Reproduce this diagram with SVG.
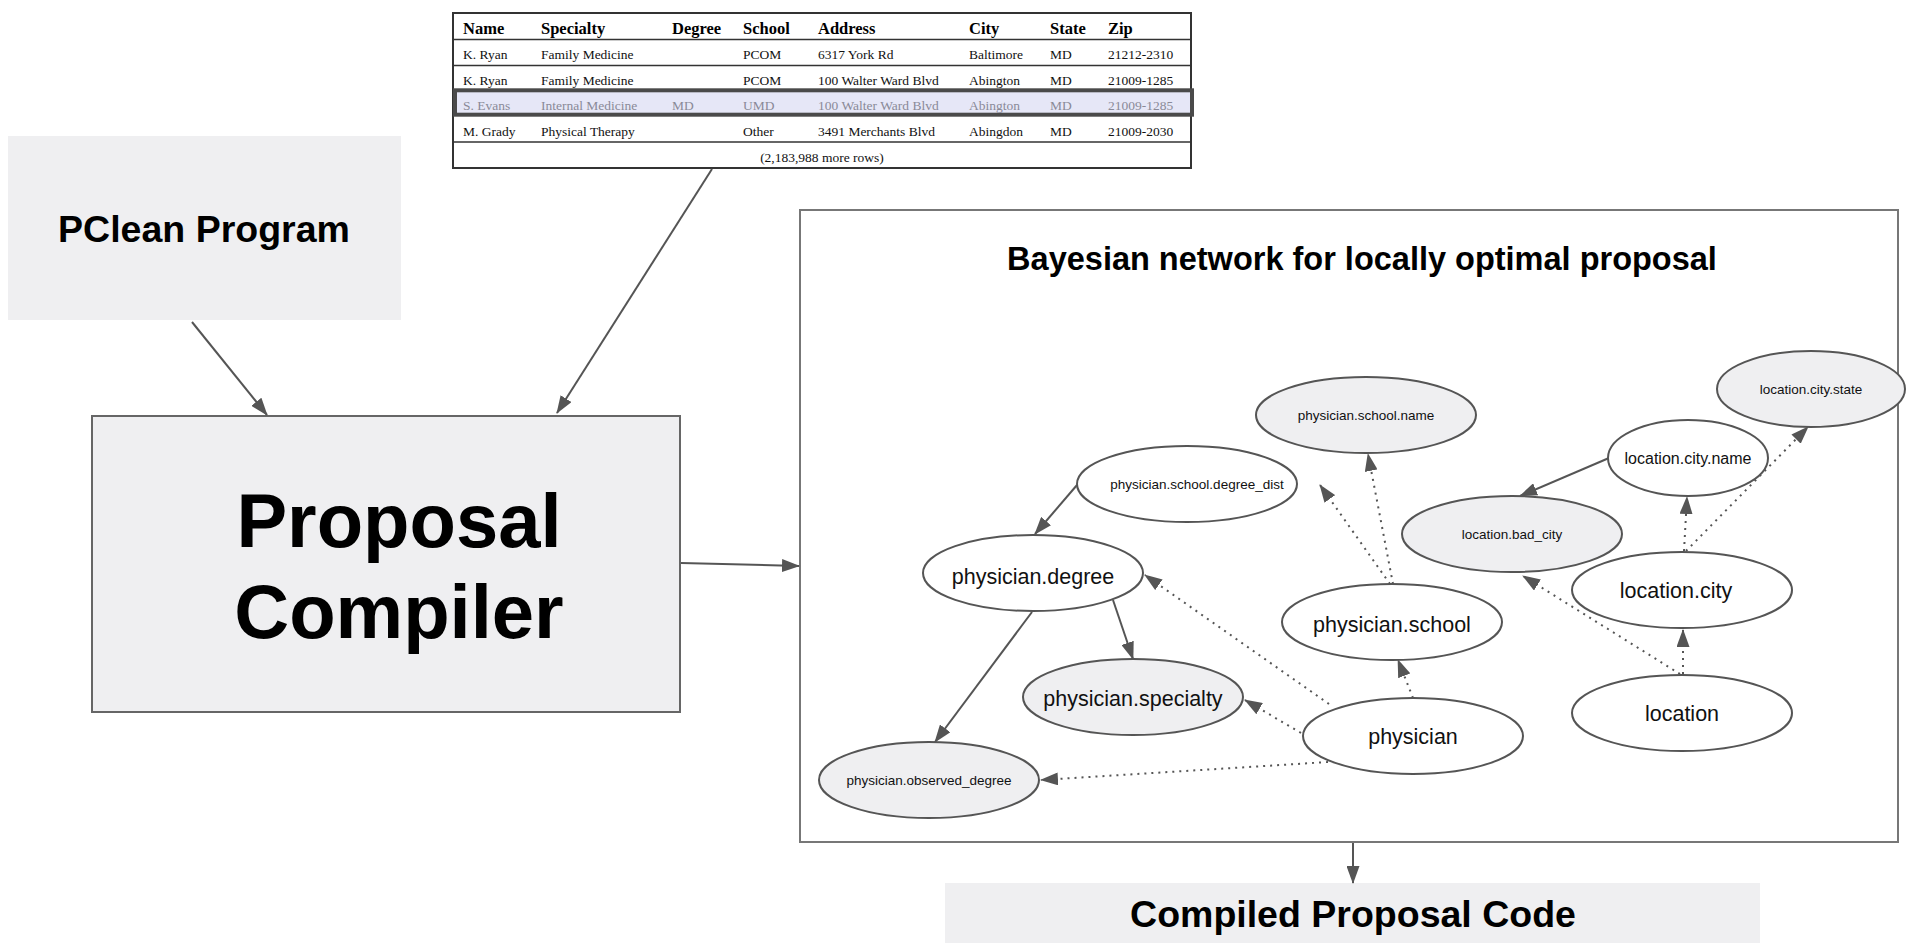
<svg xmlns="http://www.w3.org/2000/svg" width="1917" height="945" viewBox="0 0 1917 945">
<style>
.box{fill:#efeff1;}
.lbl{font-family:"Liberation Sans",Arial,sans-serif;font-weight:bold;fill:#000;text-anchor:middle;}
.tb{font-family:"Liberation Serif","Times New Roman",serif;font-size:13.5px;fill:#111;}
.th{font-family:"Liberation Serif","Times New Roman",serif;font-size:16.5px;font-weight:bold;fill:#000;}
.hl{fill:#8a8a98;}
.tl{stroke:#333;stroke-width:1.5;fill:none;}
.n ellipse{stroke:#555;stroke-width:2;fill:#fff;}
.n.g ellipse{fill:#efeff1;}
.n text{font-family:"Liberation Sans",Arial,sans-serif;fill:#111;text-anchor:middle;}
.big{font-size:21.5px;}
.sm{font-size:13.5px;}
.md{font-size:16px;}
.e{stroke:#555;stroke-width:2;fill:none;marker-end:url(#arr);}
.d{stroke-dasharray:2 5;}
</style>
<defs>
<marker id="arr" markerUnits="userSpaceOnUse" markerWidth="18" markerHeight="13" refX="17" refY="6.5" orient="auto" viewBox="0 0 18 13">
<path d="M0,0 L18,6.5 L0,13 z" fill="#555"/>
</marker>
</defs>
<rect width="1917" height="945" fill="#fff"/>

<g id="table">
<rect x="453" y="13" width="738" height="155" fill="#fff" stroke="#333" stroke-width="2"/>
<line class="tl" x1="453" y1="39.5" x2="1191" y2="39.5"/>
<line class="tl" x1="453" y1="65.5" x2="1191" y2="65.5"/>
<line class="tl" x1="453" y1="142" x2="1191" y2="142"/>
<rect x="455" y="90.3" width="737" height="24.4" fill="#e6e7f7" stroke="#4a4a4a" stroke-width="4"/>
<text class="th" y="34"><tspan x="463">Name</tspan><tspan x="541">Specialty</tspan><tspan x="672">Degree</tspan><tspan x="743">School</tspan><tspan x="818">Address</tspan><tspan x="969">City</tspan><tspan x="1050">State</tspan><tspan x="1108">Zip</tspan></text>
<text class="tb" y="59"><tspan x="463">K. Ryan</tspan><tspan x="541">Family Medicine</tspan><tspan x="743">PCOM</tspan><tspan x="818">6317 York Rd</tspan><tspan x="969">Baltimore</tspan><tspan x="1050">MD</tspan><tspan x="1108">21212-2310</tspan></text>
<text class="tb" y="84.5"><tspan x="463">K. Ryan</tspan><tspan x="541">Family Medicine</tspan><tspan x="743">PCOM</tspan><tspan x="818">100 Walter Ward Blvd</tspan><tspan x="969">Abington</tspan><tspan x="1050">MD</tspan><tspan x="1108">21009-1285</tspan></text>
<text class="tb hl" y="109.5"><tspan x="463">S. Evans</tspan><tspan x="541">Internal Medicine</tspan><tspan x="672">MD</tspan><tspan x="743">UMD</tspan><tspan x="818">100 Walter Ward Blvd</tspan><tspan x="969">Abington</tspan><tspan x="1050">MD</tspan><tspan x="1108">21009-1285</tspan></text>
<text class="tb" y="136"><tspan x="463">M. Grady</tspan><tspan x="541">Physical Therapy</tspan><tspan x="743">Other</tspan><tspan x="818">3491 Merchants Blvd</tspan><tspan x="969">Abingdon</tspan><tspan x="1050">MD</tspan><tspan x="1108">21009-2030</tspan></text>
<text class="tb" x="822" y="161.5" text-anchor="middle">(2,183,988 more rows)</text>
</g>

<g id="pclean">
<rect class="box" x="8" y="136" width="393" height="184"/>
<text class="lbl" x="204" y="242" font-size="37.5">PClean Program</text>
</g>

<g id="compiler">
<rect x="92" y="416" width="588" height="296" fill="#efeff1" stroke="#666" stroke-width="2"/>
<text class="lbl" x="399" y="547" font-size="76">Proposal</text>
<text class="lbl" x="399" y="638" font-size="76">Compiler</text>
</g>

<g id="bayes">
<rect x="800" y="210" width="1098" height="632" fill="#fff" stroke="#777" stroke-width="2"/>
<text class="lbl" x="1362" y="270" font-size="32.5">Bayesian network for locally optimal proposal</text>
</g>

<g id="compiled">
<rect class="box" x="945" y="883" width="815" height="60"/>
<text class="lbl" x="1353" y="927" font-size="37.5">Compiled Proposal Code</text>
</g>

<g id="connectors">
<line class="e" x1="192" y1="322" x2="267" y2="415"/>
<line class="e" x1="712" y1="169" x2="557" y2="413"/>
<line class="e" x1="681" y1="563" x2="799" y2="566"/>
<line class="e" x1="1353" y1="843" x2="1353" y2="883"/>
<line class="e" x1="1077" y1="485" x2="1035" y2="534"/>
<line class="e" x1="1113" y1="600" x2="1133" y2="659"/>
<line class="e" x1="1032" y1="612" x2="935" y2="742"/>
<line class="e" x1="1609" y1="458" x2="1520" y2="496"/>
<line class="e d" x1="1329" y1="704" x2="1145" y2="575"/>
<line class="e d" x1="1301" y1="733" x2="1245" y2="700"/>
<line class="e d" x1="1328" y1="762" x2="1041" y2="780"/>
<line class="e d" x1="1413" y1="698" x2="1398" y2="660"/>
<line class="e d" x1="1390" y1="584" x2="1320" y2="485"/>
<line class="e d" x1="1393" y1="584" x2="1368" y2="454"/>
<line class="e d" x1="1680" y1="674" x2="1523" y2="576"/>
<line class="e d" x1="1683" y1="674" x2="1683" y2="630"/>
<line class="e d" x1="1684" y1="551" x2="1687" y2="497"/>
<line class="e d" x1="1686" y1="551" x2="1808" y2="427"/>
</g>

<g id="n_school_name" class="n g"><ellipse cx="1366" cy="415" rx="110" ry="38"/><text class="sm" x="1366" y="420">physician.school.name</text></g>
<g id="n_city_state" class="n g"><ellipse cx="1811" cy="389" rx="94" ry="38"/><text class="sm" x="1811" y="394">location.city.state</text></g>
<g id="n_city_name" class="n"><ellipse cx="1688" cy="458" rx="80" ry="38"/><text class="md" x="1688" y="464">location.city.name</text></g>
<g id="n_degree_dist" class="n"><ellipse cx="1187" cy="484" rx="110" ry="38"/><text class="sm" x="1197" y="489">physician.school.degree_dist</text></g>
<g id="n_bad_city" class="n g"><ellipse cx="1512" cy="534" rx="110" ry="38"/><text class="sm" x="1512" y="539">location.bad_city</text></g>
<g id="n_degree" class="n"><ellipse cx="1033" cy="573" rx="110" ry="38"/><text class="big" x="1033" y="584">physician.degree</text></g>
<g id="n_city" class="n"><ellipse cx="1682" cy="590" rx="110" ry="38"/><text class="big" x="1676" y="598">location.city</text></g>
<g id="n_school" class="n"><ellipse cx="1392" cy="622" rx="110" ry="38"/><text class="big" x="1392" y="632">physician.school</text></g>
<g id="n_specialty" class="n g"><ellipse cx="1133" cy="697" rx="110" ry="38"/><text class="big" x="1133" y="706">physician.specialty</text></g>
<g id="n_physician" class="n"><ellipse cx="1413" cy="736" rx="110" ry="38"/><text class="big" x="1413" y="744">physician</text></g>
<g id="n_location" class="n"><ellipse cx="1682" cy="713" rx="110" ry="38"/><text class="big" x="1682" y="721">location</text></g>
<g id="n_observed" class="n g"><ellipse cx="929" cy="780" rx="110" ry="38"/><text class="sm" x="929" y="785">physician.observed_degree</text></g>
</svg>
